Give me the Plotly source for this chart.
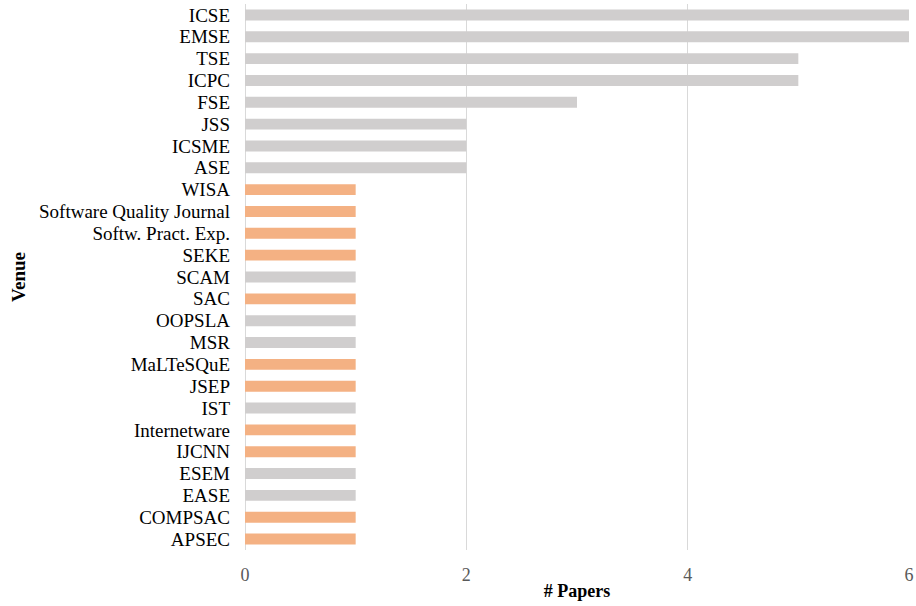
import plotly.graph_objects as go

venues = ["ICSE", "EMSE", "TSE", "ICPC", "FSE", "JSS", "ICSME", "ASE", "WISA",
          "Software Quality Journal", "Softw. Pract. Exp.", "SEKE", "SCAM", "SAC",
          "OOPSLA", "MSR", "MaLTeSQuE", "JSEP", "IST", "Internetware", "IJCNN",
          "ESEM", "EASE", "COMPSAC", "APSEC"]
papers = [6, 6, 5, 5, 3, 2, 2, 2, 1, 1, 1, 1, 1, 1, 1, 1, 1, 1, 1, 1, 1, 1, 1, 1, 1]
group = ["top", "top", "top", "top", "top", "top", "top", "top", "other",
         "other", "other", "other", "top", "other",
         "top", "top", "other", "other", "top", "other", "other",
         "top", "top", "other", "other"]
x_ticks = [0, 2, 4, 6]

color_map = {"top": "#D0CECE", "other": "#F4B183"}
colors = [color_map[g] for g in group]

fig = go.Figure(go.Bar(
    x=papers, y=venues, orientation="h",
    marker=dict(color=colors, line=dict(width=0)),
    width=0.5,
    hoverinfo="skip",
))

font_family = "Liberation Serif"
fig.update_layout(
    width=916, height=606,
    margin=dict(l=245, r=7, t=4, b=56),
    paper_bgcolor="white", plot_bgcolor="white",
    font=dict(family=font_family, color="black"),
    showlegend=False,
    xaxis=dict(
        range=[0, 6], tickvals=x_ticks, showgrid=True, gridcolor="#D9D9D9",
        gridwidth=1, zeroline=True, zerolinecolor="#D9D9D9", zerolinewidth=1,
        tickfont=dict(size=18, color="#595959", family=font_family),
        title=dict(text="<b># Papers</b>", font=dict(size=18, color="black", family=font_family), standoff=0),
        showline=False, ticks="", ticklabelstandoff=12, automargin=False,
    ),
    yaxis=dict(
        autorange="reversed", tickmode="array", tickvals=venues, ticktext=venues,
        tickfont=dict(size=19, color="black", family=font_family),
        title=dict(text="<b>Venue</b>", font=dict(size=19, color="black", family=font_family), standoff=8),
        showgrid=False, ticks="", ticklabelstandoff=14, automargin=False,
    ),
)

fig.write_html(
    "out.html",
    config={"displayModeBar": False},
    post_script="document.body.style.margin='0';document.body.style.overflow='hidden';",
)
